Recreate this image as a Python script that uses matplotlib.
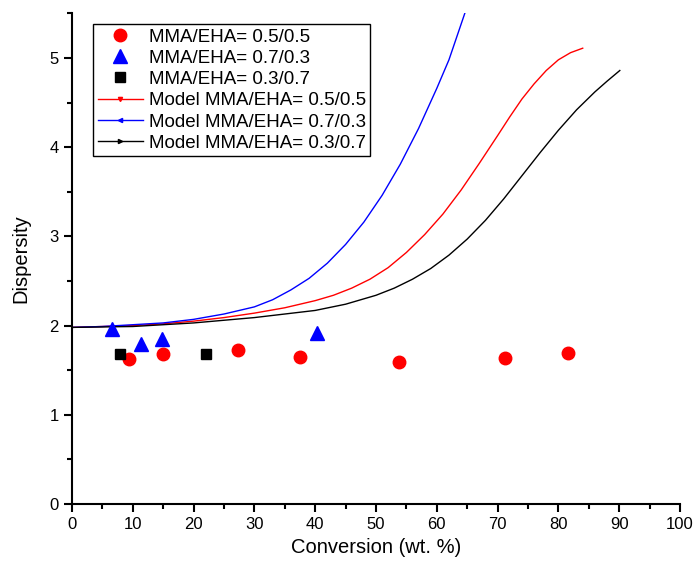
import numpy as np
import matplotlib.pyplot as plt
from matplotlib.lines import Line2D
from matplotlib.ticker import MultipleLocator

plt.rcParams['font.family'] = ['Liberation Sans', 'DejaVu Sans']

# Measured dispersity
x_55 = [9.4, 15.0, 27.3, 37.5, 53.8, 71.2, 81.6]
d_55 = [1.63, 1.68, 1.73, 1.65, 1.59, 1.64, 1.69]
x_73 = [6.6, 11.3, 14.8, 40.3]
d_73 = [1.96, 1.79, 1.85, 1.92]
x_37 = [7.9, 22.0]
d_37 = [1.68, 1.68]

# Model curves
mx_55 = [0, 10, 15, 20, 25, 30, 35, 40, 43, 46, 49, 52, 55, 58, 61, 64, 67,
         70, 72, 74, 76, 78, 80, 82, 84]
my_55 = [1.98, 2.00, 2.02, 2.05, 2.09, 2.14, 2.20, 2.28, 2.34, 2.42, 2.52,
         2.65, 2.82, 3.02, 3.25, 3.52, 3.82, 4.13, 4.34, 4.54, 4.71, 4.86,
         4.98, 5.06, 5.11]
mx_73 = [0, 5, 10, 15, 20, 25, 30, 33, 36, 39, 42, 45, 48, 51, 54, 57, 60,
         62, 64.6]
my_73 = [1.98, 1.99, 2.01, 2.03, 2.07, 2.13, 2.21, 2.29, 2.40, 2.53, 2.70,
         2.91, 3.16, 3.46, 3.81, 4.21, 4.66, 4.98, 5.50]
mx_37 = [0, 10, 20, 25, 30, 35, 40, 45, 50, 53, 56, 59, 62, 65, 68, 71, 74,
         77, 80, 83, 86, 88, 90.1]
my_37 = [1.98, 1.99, 2.03, 2.06, 2.09, 2.13, 2.17, 2.24, 2.34, 2.42, 2.52,
         2.64, 2.79, 2.97, 3.18, 3.42, 3.68, 3.94, 4.19, 4.42, 4.62, 4.74, 4.86]

fig = plt.figure(figsize=(6.97, 5.76), dpi=100)
ax = fig.add_axes([0.1033, 0.125, 0.8723, 0.8517])

ax.plot(mx_55, my_55, color='red', lw=1.0)
ax.plot(mx_73, my_73, color='blue', lw=1.0)
ax.plot(mx_37, my_37, color='black', lw=1.0)

ax.plot(x_55, d_55, 'o', color='red', ms=9, ls='None')
ax.plot(x_73, d_73, '^', color='blue', ms=10, ls='None')
ax.plot(x_37, d_37, 's', color='black', ms=7.5, ls='None')

ax.set_xlim(0, 100)
ax.set_ylim(0, 5.5)
ax.xaxis.set_major_locator(MultipleLocator(10))
ax.xaxis.set_minor_locator(MultipleLocator(5))
ax.yaxis.set_major_locator(MultipleLocator(1))
ax.yaxis.set_minor_locator(MultipleLocator(0.5))
ax.spines['top'].set_visible(False)
ax.spines['right'].set_visible(False)
for s in ('left', 'bottom'):
    ax.spines[s].set_linewidth(1.5)
ax.tick_params(which='major', direction='out', length=6, width=1.5, labelsize=12)
ax.tick_params(which='minor', direction='out', length=3.5, width=1.5)

ax.set_xlabel('Conversion (wt. %)', fontsize=14.5)
ax.set_ylabel('Dispersity', fontsize=14.5, labelpad=14)

handles = [
    Line2D([], [], color='red', marker='o', ls='None', ms=9, label='MMA/EHA= 0.5/0.5'),
    Line2D([], [], color='blue', marker='^', ls='None', ms=10, label='MMA/EHA= 0.7/0.3'),
    Line2D([], [], color='black', marker='s', ls='None', ms=7.5, label='MMA/EHA= 0.3/0.7'),
    Line2D([], [], color='red', marker='v', ms=3, lw=1.0, label='Model MMA/EHA= 0.5/0.5'),
    Line2D([], [], color='blue', marker='<', ms=3, lw=1.0, label='Model MMA/EHA= 0.7/0.3'),
    Line2D([], [], color='black', marker='>', ms=3, lw=1.0, label='Model MMA/EHA= 0.3/0.7'),
]
leg = ax.legend(handles=handles, loc='upper left', bbox_to_anchor=(0.035, 0.979),
                borderaxespad=0, fontsize=13.5, fancybox=False, framealpha=1,
                edgecolor='black', handlelength=2.4, handletextpad=0.3,
                labelspacing=0.22, borderpad=0.25)
leg.get_frame().set_linewidth(1.0)

fig.savefig('out.png', dpi=100)
